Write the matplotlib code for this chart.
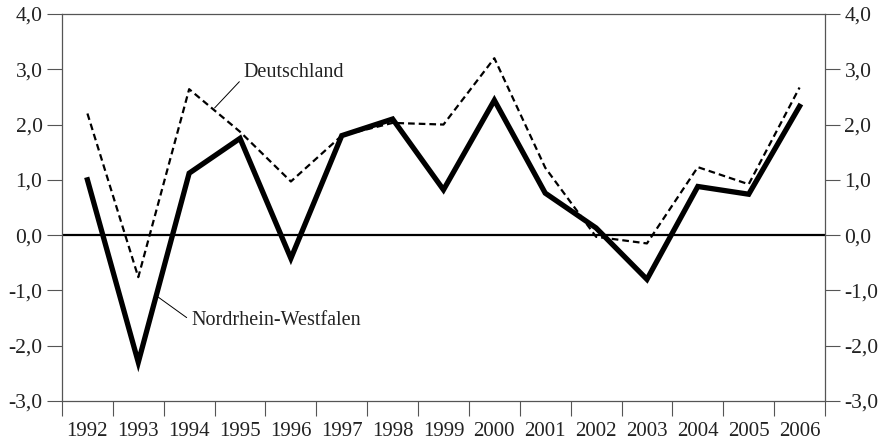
import numpy as np
import matplotlib
matplotlib.use('Agg')
from matplotlib import pyplot as plt
from matplotlib.ticker import FuncFormatter, FixedLocator

# data
years = [1992, 1993, 1994, 1995, 1996, 1997, 1998, 1999, 2000, 2001, 2002, 2003, 2004, 2005, 2006]
nrw = [1.0, -2.3, 1.12, 1.75, -0.42, 1.8, 2.1, 0.82, 2.44, 0.76, 0.13, -0.8, 0.88, 0.74, 2.33]
deutschland = [2.2, -0.76, 2.64, 1.87, 0.97, 1.8, 2.03, 2.0, 3.2, 1.22, -0.03, -0.15, 1.23, 0.92, 2.67]
yticks = [-3.0, -2.0, -1.0, 0.0, 1.0, 2.0, 3.0, 4.0]

plt.rcParams['font.family'] = ['Liberation Serif', 'DejaVu Serif']
txt_color = '#222222'
spine_color = '#555555'

fig = plt.figure(figsize=(8.83, 4.41), dpi=100)
ax = fig.add_axes([0.0702, 0.0907, 0.8641, 0.8776])

x = np.arange(len(years))
ax.axhline(0, color='black', lw=1.6, zorder=1)
ax.plot(x, deutschland, color='black', lw=1.6, ls=(0, (3, 1.8)), zorder=2)
ax.plot(x, nrw, color='black', lw=3.8, solid_joinstyle='miter', zorder=3)

ax.set_xlim(-0.5, len(years) - 0.5)
ax.set_ylim(-3, 4)

# ticks at category boundaries, labels at centers
ax.xaxis.set_major_locator(FixedLocator(np.arange(-0.5, len(years), 1.0)))
ax.xaxis.set_minor_locator(FixedLocator(x))
ax.set_xticklabels([])
ax.set_xticklabels([str(y) for y in years], minor=True)
ax.tick_params(axis='x', which='major', direction='out', length=11, width=0.8, color=spine_color)
ax.tick_params(axis='x', which='minor', length=0, pad=15, labelsize=15, labelcolor=txt_color)

ax.set_yticks(yticks)
ax.yaxis.set_major_formatter(FuncFormatter(lambda v, p: f"{v:.1f}".replace('.', ',')))
ax.tick_params(axis='y', direction='out', length=11, width=0.8, color=spine_color,
               left=True, right=True, labelleft=True, labelright=True,
               labelsize=15.5, labelcolor=txt_color, pad=3)

for s in ax.spines.values():
    s.set_color(spine_color)
    s.set_linewidth(0.9)

ax.annotate('Deutschland', xy=(2.5, 2.3), xytext=(3.06, 2.95),
            fontsize=14.5, color=txt_color, va='center', ha='left',
            arrowprops=dict(arrowstyle='-', color='black', lw=0.7, shrinkA=1, shrinkB=0,
                            relpos=(0, 0.2)))
ax.annotate('Nordrhein-Westfalen', xy=(1.39, -1.12), xytext=(2.05, -1.54),
            fontsize=14.5, color=txt_color, va='center', ha='left',
            arrowprops=dict(arrowstyle='-', color='black', lw=0.7, shrinkA=2, shrinkB=0,
                            relpos=(0, 0.45)))

fig.savefig('out.png', dpi=100)
